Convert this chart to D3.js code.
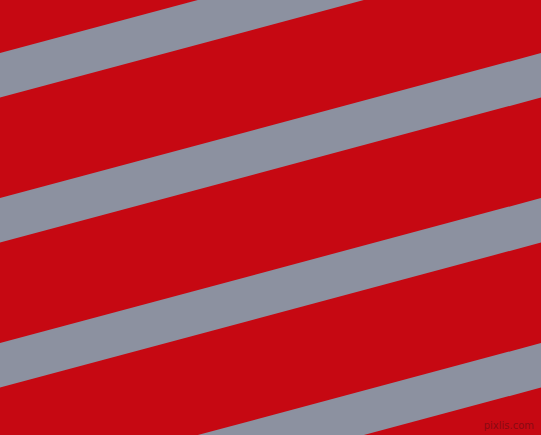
<!DOCTYPE html>
<html>
<head>
<meta charset="utf-8">
<script src="https://cdn.jsdelivr.net/npm/d3@7"></script>
<style>
  html, body { margin: 0; padding: 0; background: #c60812; }
  svg { display: block; }
</style>
</head>
<body>
<div id="chart"></div>
<script>
// stripe data: index of each band, y where its upper edge meets the left side
const stripeIndex = [-1, 0, 1, 2, 3];
const stripeTop = [-92, 53, 198, 343, 488];
const bandHeight = [44.5, 44.5, 44.5, 44.5, 44.5];
const watermark = ['pixlis.com'];

const width = 541, height = 435;
const slope = Math.tan(15 * Math.PI / 180);

const x = d3.scaleLinear().domain([0, 1]).range([0, width]);
const y = d3.scaleLinear().domain([0, height]).range([0, height]);

const svg = d3.select('#chart')
    .append('svg')
    .attr('width', width)
    .attr('height', height);

svg.append('rect')
    .attr('width', width)
    .attr('height', height)
    .attr('fill', '#c60812');

const line = d3.line();

// each band is a slanted parallelogram rising to the right
svg.selectAll('.stripe')
    .data(stripeIndex.map((d, i) => ({ i: d, top: stripeTop[i], h: bandHeight[i] })))
    .enter().append('path')
    .attr('class', 'stripe')
    .attr('fill', '#8c91a0')
    .attr('d', d => {
        const x0 = x(0), x1 = x(1);
        const drop = (x1 - x0) * slope;
        return line([
            [x0, y(d.top)],
            [x1, y(d.top) - drop],
            [x1, y(d.top + d.h) - drop],
            [x0, y(d.top + d.h)]
        ]) + 'Z';
    });

svg.selectAll('.mark')
    .data(watermark)
    .enter().append('text')
    .attr('x', 534)
    .attr('y', 429)
    .attr('text-anchor', 'end')
    .attr('font-family', 'DejaVu Sans, sans-serif')
    .attr('font-size', 10)
    .attr('fill', '#8a0a12')
    .text(d => d);
</script>
</body>
</html>
